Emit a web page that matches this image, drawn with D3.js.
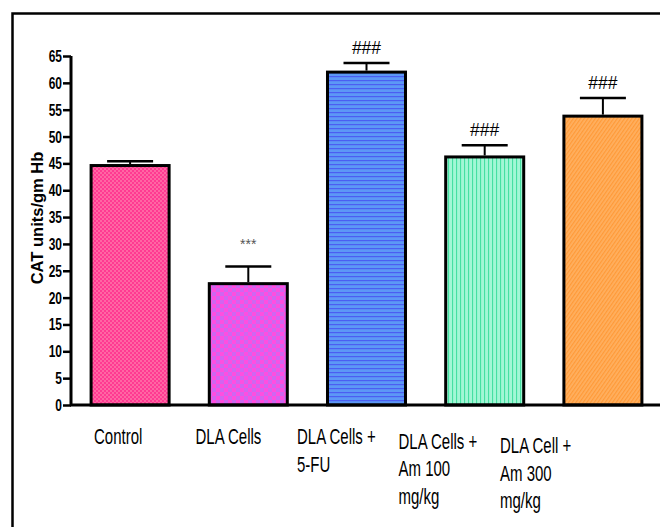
<!DOCTYPE html>
<html><head><meta charset="utf-8">
<script src="https://cdn.jsdelivr.net/npm/d3@7"></script>
<style>body{margin:0;background:#fff}svg{display:block}text{font-family:"Liberation Sans",Arial,sans-serif}</style>
</head><body>
<script>
// ---- data ----
const categories = ["Control", "DLA Cells", "DLA Cells + 5-FU", "DLA Cells + Am 100 mg/kg", "DLA Cell + Am 300 mg/kg"];
const labelLines = [["Control"], ["DLA Cells"], ["DLA Cells +", "5-FU"], ["DLA Cells +", "Am 100", "mg/kg"], ["DLA Cell +", "Am 300", "mg/kg"]];
const means = [44.6, 22.6, 62.0, 46.2, 53.8];
const errors = [0.8, 3.2, 1.7, 2.2, 3.4];
const marks = ["", "***", "###", "###", "###"];
const yTicks = [0,5,10,15,20,25,30,35,40,45,50,55,60,65];
const yLabel = "CAT units/gm Hb";

const W = 660, H = 527;
const svg = d3.select("body").append("svg").attr("width", W).attr("height", H);
const defs = svg.append("defs");

// patterns
function pat(id, w, h, base, draw) {
  const p = defs.append("pattern").attr("id", id).attr("patternUnits", "userSpaceOnUse").attr("width", w).attr("height", h);
  p.append("rect").attr("width", w).attr("height", h).attr("fill", base);
  draw(p);
}
pat("p0", 4, 4, "#ff3a92", p => { p.append("rect").attr("width",2).attr("height",2).attr("fill","#ff66a3"); p.append("rect").attr("x",2).attr("y",2).attr("width",2).attr("height",2).attr("fill","#ff66a3"); });
pat("p1", 8, 8, "#ff4ee0", p => { p.append("rect").attr("width",4).attr("height",4).attr("fill","#cf66f0"); p.append("rect").attr("x",4).attr("y",4).attr("width",4).attr("height",4).attr("fill","#cf66f0"); });
pat("p2", 4, 4, "#5c98f6", p => { p.append("rect").attr("y",0).attr("width",4).attr("height",1.2).attr("fill","#4b5ef2"); });
pat("p3", 4, 4, "#a2f7d6", p => { p.append("rect").attr("x",0).attr("width",1.1).attr("height",4).attr("fill","#45e0a2"); });
pat("p4", 3, 3, "#ffb060", p => { p.attr("patternTransform","rotate(35)"); p.append("rect").attr("width",1.2).attr("height",3).attr("fill","#ff9a38"); });

// frame
svg.append("path").attr("d", `M12.5,${H} V13.5 H${W}`).attr("fill","none").attr("stroke","#000").attr("stroke-width",2.5);

const y = d3.scaleLinear().domain([0, 65]).range([405, 56]);
const x = d3.scaleBand().domain(categories).range([71, 662]).paddingInner(0.34).paddingOuter(0.17);

// bars
const g = svg.append("g");
g.selectAll("rect.bar").data(categories).join("rect")
  .attr("x", d => x(d)).attr("width", x.bandwidth())
  .attr("y", (d,i) => y(means[i])).attr("height", (d,i) => y(0) - y(means[i]))
  .attr("fill", (d,i) => `url(#p${i})`).attr("stroke", "#000").attr("stroke-width", 3);

// error bars
const capW = 46;
categories.forEach((c, i) => {
  const cx = x(c) + x.bandwidth()/2;
  g.append("line").attr("x1", cx).attr("x2", cx).attr("y1", y(means[i]) - 1.5).attr("y2", y(means[i] + errors[i])).attr("stroke","#000").attr("stroke-width",2);
  g.append("line").attr("x1", cx - capW/2).attr("x2", cx + capW/2).attr("y1", y(means[i] + errors[i])).attr("y2", y(means[i] + errors[i])).attr("stroke","#000").attr("stroke-width",2.5);
  if (marks[i] === "***") {
    g.append("text").attr("x", cx).attr("y", y(means[i] + errors[i]) - 17).attr("text-anchor","middle").attr("font-size",14).attr("fill","#555").text(marks[i]);
  } else if (marks[i]) {
    g.append("text").attr("x", cx).attr("y", y(means[i] + errors[i]) - 9).attr("text-anchor","middle").attr("font-size",17.5).attr("fill","#000").text(marks[i]);
  }
});

// y axis
const yAxis = d3.axisLeft(y).tickValues(yTicks).tickSize(8).tickPadding(2);
const ya = svg.append("g").attr("transform", "translate(71,0)").call(yAxis);
ya.select(".domain").attr("stroke-width", 3).attr("d", `M0,${y(65)}V${y(0)}`);
ya.selectAll(".tick line").attr("stroke-width", 2.5);
ya.selectAll(".tick text").attr("font-weight","bold").attr("font-size",13).attr("fill","#000")
  .attr("font-family", '"Liberation Sans",Arial,sans-serif')
  .each(function(){ const t=d3.select(this); t.attr("dy",null).attr("y",null).attr("transform","translate(-9,5.5) scale(0.92,1.3)").attr("x",0).attr("text-anchor","end"); });

// x axis line
svg.append("line").attr("x1", 70).attr("x2", W).attr("y1", y(0)).attr("y2", y(0)).attr("stroke","#000").attr("stroke-width",3);

// y label
svg.append("text").attr("transform", "translate(43,218) rotate(-90)").attr("text-anchor","middle")
  .attr("font-weight","bold").attr("font-size",16.5).attr("fill","#000").text(yLabel);

// category labels
const lx = d3.scalePoint().domain(categories).range([94, 500]);
labelLines.forEach((lines, i) => {
  const base = 444 + Math.max(0, i - 2) * 4.5;
  lines.forEach((ln, k) => {
    svg.append("text").attr("transform", `translate(${lx(categories[i])},${base + k*27.5}) scale(1,1.45)`)
      .attr("font-size", 15).attr("fill","#000").text(ln);
  });
});
</script>
</body></html>
